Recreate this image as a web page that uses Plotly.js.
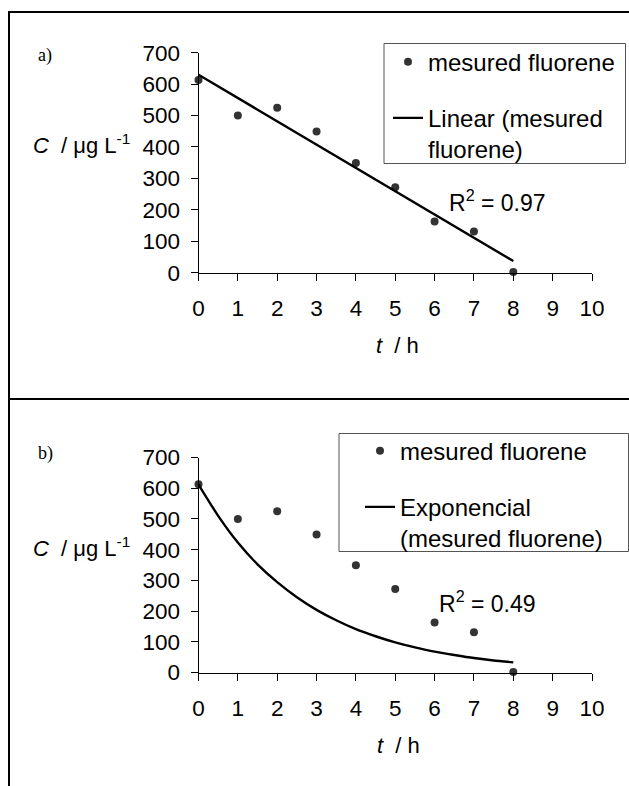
<!DOCTYPE html>
<html><head><meta charset="utf-8">
<script src="https://cdn.plot.ly/plotly-3.0.1.min.js"></script>
<style>html,body{margin:0;padding:0;background:#fff}#chart{width:629px;height:786px}</style>
</head><body><div id="chart"></div>
<script>
// ---- data ----
const timeH = [0, 1, 2, 3, 4, 5, 6, 7, 8];
const fluorene = [613, 500, 525, 449, 349, 272, 163, 131, 2];
const linearT = [0, 8];
const linearFit = [630, 37];
const expT = [0, 0.5, 1, 1.5, 2, 2.5, 3, 3.5, 4, 4.5, 5, 5.5, 6, 6.5, 7, 7.5, 8];
const expFit = [612, 510, 423, 352, 294, 245, 204, 170, 141, 118, 98, 82, 68, 57, 47, 39, 33];
const xTicks = [0, 1, 2, 3, 4, 5, 6, 7, 8, 9, 10];
const yTicks = [0, 100, 200, 300, 400, 500, 600, 700];
const seriesName = 'mesured fluorene';
const linearName = 'Linear (mesured<br>fluorene)';
const expName = 'Exponencial<br>(mesured fluorene)';
const r2Linear = 'R<sup>2</sup> = 0.97';
const r2Exp = 'R<sup>2</sup> = 0.49';

// ---- layout helpers ----
const W = 629, H = 786;
const px = x => x / W, py = y => 1 - y / H;
const SANS = 'Liberation Sans, Arial, sans-serif';
const SERIF = 'Liberation Serif, Times New Roman, serif';
const FS = 22.5;

function xAxis(anchor) {
  return {
    domain: [px(198.5), px(592)], range: [0, 10], anchor: anchor,
    tickmode: 'array', tickvals: xTicks, ticktext: xTicks.map(String),
    ticks: 'outside', ticklen: 7, tickwidth: 1, tickcolor: '#000',
    showline: true, linecolor: '#000', linewidth: 1,
    showgrid: false, zeroline: false, ticklabelstandoff: 8,
    tickfont: {family: SANS, size: FS, color: '#000'}, fixedrange: true
  };
}
function yAxis(anchor, top, bottom) {
  return {
    domain: [py(bottom), py(top)], range: [0, 700], anchor: anchor,
    tickmode: 'array', tickvals: yTicks, ticktext: yTicks.map(String),
    ticks: 'outside', ticklen: 7, tickwidth: 1, tickcolor: '#000',
    showline: true, linecolor: '#000', linewidth: 1,
    showgrid: false, zeroline: false, ticklabelstandoff: 6,
    tickfont: {family: SANS, size: FS, color: '#000'}, fixedrange: true
  };
}

const markerStyle = {color: '#333333', size: 8, symbol: 'circle'};

const traces = [
  {x: timeH, y: fluorene, xaxis: 'x', yaxis: 'y', mode: 'markers', type: 'scatter',
   name: seriesName, marker: markerStyle, cliponaxis: false, legend: 'legend', legendgroup: 'a1'},
  {x: linearT, y: linearFit, xaxis: 'x', yaxis: 'y', mode: 'lines', type: 'scatter',
   name: linearName, line: {color: '#000', width: 2.4}, cliponaxis: false, legend: 'legend', legendgroup: 'a2'},
  {x: timeH, y: fluorene, xaxis: 'x2', yaxis: 'y2', mode: 'markers', type: 'scatter',
   name: seriesName, marker: markerStyle, cliponaxis: false, legend: 'legend2', legendgroup: 'b1'},
  {x: expT, y: expFit, xaxis: 'x2', yaxis: 'y2', mode: 'lines', type: 'scatter',
   name: expName, line: {color: '#000', width: 2.4, shape: 'spline', smoothing: 0.6}, cliponaxis: false, legend: 'legend2', legendgroup: 'b2'}
];

function ann(text, x, y, xanchor, opts) {
  return Object.assign({text: text, x: px(x), y: py(y), xref: 'paper', yref: 'paper',
    xanchor: xanchor, yanchor: 'middle', showarrow: false,
    font: {family: SANS, size: 22, color: '#000'}}, opts || {});
}

const yTitle = '<i>C</i>\u00a0 / \u03bcg L<sup>-1</sup>';
const xTitle = '<i>t</i>\u00a0 / h';

const annotations = [
  ann('a)', 36, 55.5, 'left', {font: {family: SERIF, size: 18, color: '#000'}}),
  ann('b)', 36, 453.5, 'left', {font: {family: SERIF, size: 18, color: '#000'}}),
  ann(yTitle, 132, 144, 'right'),
  ann(yTitle, 132, 547, 'right'),
  ann(xTitle, 397, 345, 'center'),
  ann(xTitle, 398, 745, 'center'),
  ann(r2Linear, 447, 201, 'left', {font: {family: SANS, size: 23, color: '#000'}}),
  ann(r2Exp, 437, 602, 'left', {font: {family: SANS, size: 23, color: '#000'}})
];

const shapes = [
  {type: 'line', xref: 'paper', yref: 'paper', x0: px(9), x1: px(640), y0: py(12), y1: py(12), line: {color: '#000', width: 2}},
  {type: 'line', xref: 'paper', yref: 'paper', x0: px(9), x1: px(9), y0: py(11), y1: py(800), line: {color: '#000', width: 2}},
  {type: 'line', xref: 'paper', yref: 'paper', x0: px(9), x1: px(640), y0: py(399), y1: py(399), line: {color: '#000', width: 2}},
  {type: 'rect', xref: 'paper', yref: 'paper', x0: px(384), x1: px(625.5), y0: py(43.5), y1: py(163.5), line: {color: '#555', width: 1}},
  {type: 'rect', xref: 'paper', yref: 'paper', x0: px(339), x1: px(628.5), y0: py(433.5), y1: py(551.5), line: {color: '#555', width: 1}}
];

const legendBase = {
  xanchor: 'left', yanchor: 'top', bgcolor: 'rgba(0,0,0,0)', borderwidth: 0,
  font: {family: SANS, size: 24, color: '#000'}, tracegroupgap: 22, valign: 'top',
  traceorder: 'grouped', itemwidth: 30
};

const layout = {
  width: W, height: H, margin: {l: 0, r: 0, t: 0, b: 0, pad: 0},
  paper_bgcolor: '#fff', plot_bgcolor: '#fff', showlegend: true,
  xaxis: xAxis('y'), yaxis: yAxis('x', 52.7, 272.7),
  xaxis2: xAxis('y2'), yaxis2: yAxis('x2', 457.5, 672.5),
  legend: Object.assign({x: px(388), y: py(39.6)}, legendBase),
  legend2: Object.assign({x: px(360), y: py(428.6)}, legendBase),
  annotations: annotations, shapes: shapes
};

Plotly.newPlot('chart', traces, layout, {staticPlot: true, displayModeBar: false});
</script>
</body></html>
